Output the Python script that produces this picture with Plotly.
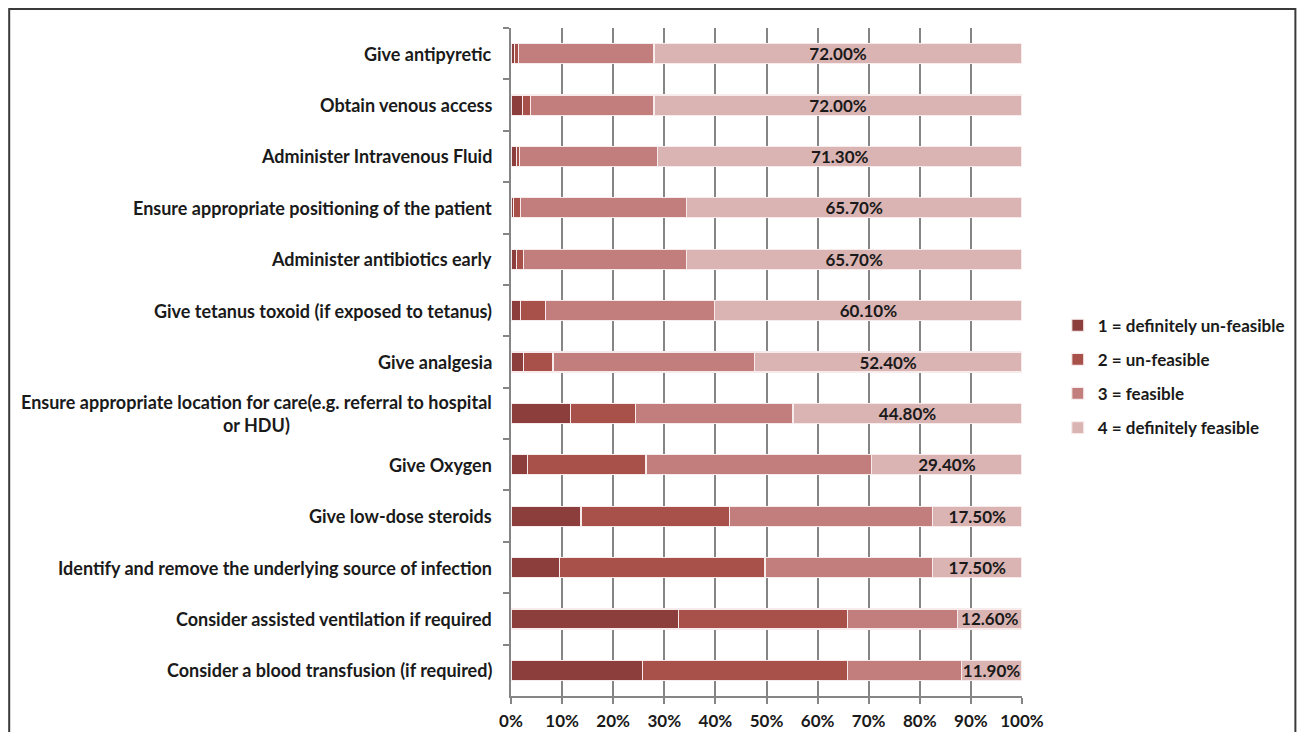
import plotly.graph_objects as go

categories = [
    "Give antipyretic",
    "Obtain venous access",
    "Administer Intravenous Fluid",
    "Ensure appropriate positioning of the patient",
    "Administer antibiotics early",
    "Give tetanus toxoid (if exposed to tetanus)",
    "Give analgesia",
    "Ensure appropriate location for care(e.g. referral to hospital<br>or HDU)",
    "Give Oxygen",
    "Give low-dose steroids",
    "Identify and remove the underlying source of infection",
    "Consider assisted ventilation if required",
    "Consider a blood transfusion (if required)",
]
definitely_unfeasible = [0.7, 2.3, 1.0, 0.5, 1.1, 1.8, 2.4, 11.7, 3.2, 13.7, 9.5, 32.7, 25.8]
unfeasible = [0.7, 1.5, 0.7, 1.4, 1.4, 5.0, 5.8, 12.7, 23.2, 29.0, 40.2, 33.2, 40.1]
feasible = [26.6, 24.2, 27.0, 32.4, 31.8, 33.1, 39.4, 30.8, 44.2, 39.8, 32.8, 21.5, 22.2]
definitely_feasible = [72.0, 72.0, 71.3, 65.7, 65.7, 60.1, 52.4, 44.8, 29.4, 17.5, 17.5, 12.6, 11.9]

series_names = ["1 = definitely un-feasible", "2 = un-feasible", "3 = feasible", "4 = definitely feasible"]
series_values = [definitely_unfeasible, unfeasible, feasible, definitely_feasible]
colors = ["#8b3e3b", "#a8504a", "#c27e7c", "#dab4b3"]

tick_vals = [0, 10, 20, 30, 40, 50, 60, 70, 80, 90, 100]
tick_text = ["0%", "10%", "20%", "30%", "40%", "50%", "60%", "70%", "80%", "90%", "100%"]

FONT = "Lato"
TXT = "#1a1a1a"

fig = go.Figure()
for i, (name, vals, col) in enumerate(zip(series_names, series_values, colors)):
    kw = {}
    if i == 3:
        kw = dict(
            text=[f"{v:.2f}%" for v in vals],
            textposition="inside",
            insidetextanchor="middle",
            textangle=0,
            constraintext="none",
            textfont=dict(family=FONT, size=17, color=TXT, weight="bold"),
        )
    fig.add_trace(go.Bar(
        y=categories, x=vals, name=name, orientation="h",
        marker=dict(color=col, line=dict(color="#f7eceb", width=1.2)),
        legendgroup=name,
        hoverinfo="x+name",
        **kw,
    ))

# category labels (right-anchored, centred lines)
for c in categories:
    fig.add_annotation(
        x=0, xref="paper", y=c, yref="y", text=c, showarrow=False,
        xanchor="right", yanchor="middle", align="center", xshift=-17,
        font=dict(family=FONT, size=18, color=TXT, weight="bold"),
    )

# outer frame
fig.add_shape(type="rect", xref="paper", yref="paper",
              x0=-0.982, x1=1.535, y0=-0.1, y1=1.0284,
              line=dict(color="#3a3a3a", width=2), fillcolor="rgba(0,0,0,0)", layer="below")

fig.update_layout(
    width=1296, height=724,
    barmode="stack", bargap=0.61,
    margin=dict(l=503, r=282, t=20, b=36),
    paper_bgcolor="white", plot_bgcolor="white",
    font=dict(family=FONT, size=17, color=TXT),
    showlegend=True,
    legend=dict(
        x=1.07, xanchor="left", y=0.478, yanchor="middle",
        traceorder="grouped", tracegroupgap=9,
        font=dict(family=FONT, size=17, color=TXT, weight="bold"),
        itemwidth=30,
    ),
    xaxis=dict(
        range=[0, 100], tickvals=tick_vals, ticktext=tick_text,
        showgrid=True, gridcolor="#858585", gridwidth=1.5,
        showline=True, linecolor="#858585", linewidth=1.5,
        ticks="outside", ticklen=6, tickcolor="#858585", tickwidth=1.5,
        ticklabelstandoff=3, automargin=False,
        tickfont=dict(family=FONT, size=17, color=TXT, weight="bold"),
        zeroline=False, fixedrange=True,
    ),
    yaxis=dict(
        autorange="reversed", showticklabels=False, automargin=False,
        showline=True, linecolor="#858585", linewidth=1.5,
        ticks="outside", ticklen=6, tickcolor="#858585", tickwidth=1.5,
        tickson="boundaries", showgrid=False, fixedrange=True,
    ),
)

fig.write_html("out.html")
